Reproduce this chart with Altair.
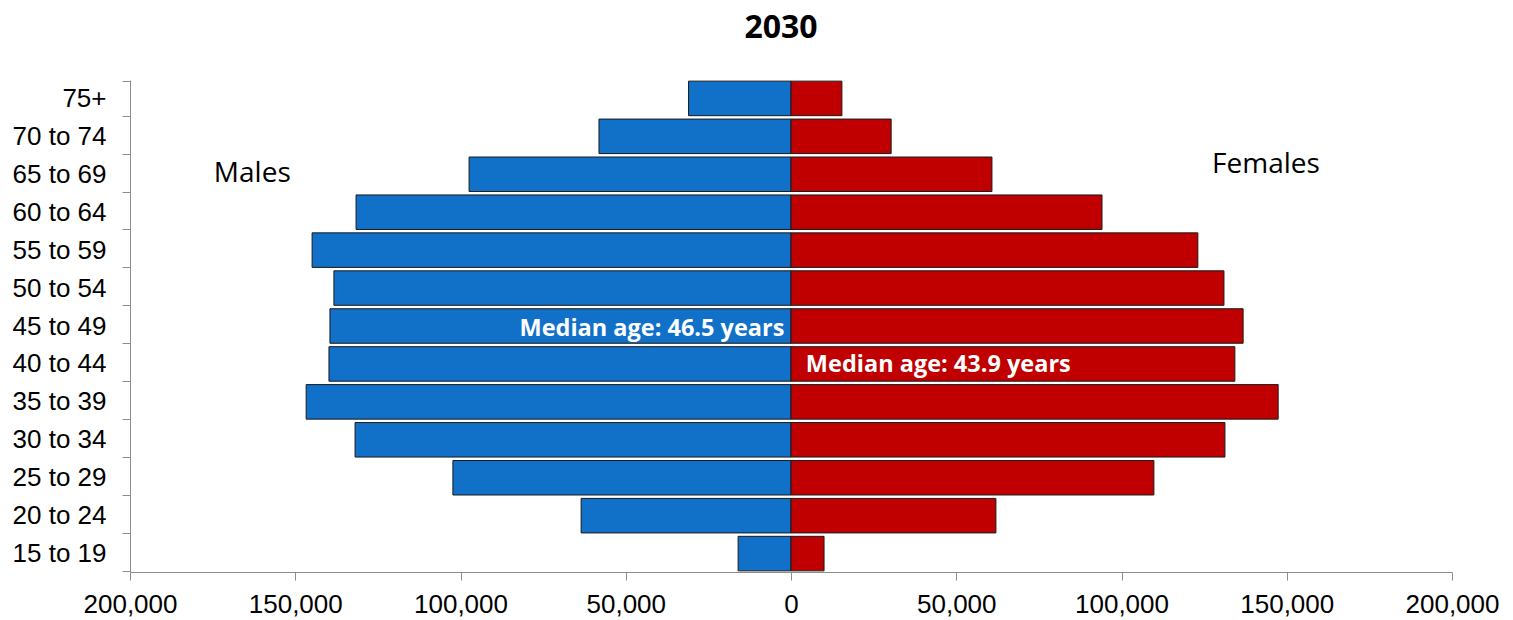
import altair as alt
import pandas as pd

# Population by five-year age group, 2030 projection
age_groups = ["15 to 19", "20 to 24", "25 to 29", "30 to 34", "35 to 39", "40 to 44",
              "45 to 49", "50 to 54", "55 to 59", "60 to 64", "65 to 69", "70 to 74", "75+"]
males = [16000, 63500, 102300, 131900, 146700, 139800, 139500, 138300, 144900,
         131600, 97400, 58100, 31000]
females = [10000, 62000, 109800, 131300, 147400, 134300, 136800, 131000, 123100,
           94100, 60800, 30300, 15400]

sexes = ["Males", "Females"]
sex_colors = ["#1170C8", "#C00000"]
x_ticks = [-200000, -150000, -100000, -50000, 0, 50000, 100000, 150000, 200000]

# Text annotations: sex labels and median ages
side_labels = ["Males", "Females"]
side_x = [-163000, 143700]
side_y = ["65 to 69", "65 to 69"]
median_text = ["Median age: 46.5 years", "Median age: 43.9 years"]
median_x = [-2000, 4500]
median_y = ["45 to 49", "40 to 44"]

rows = []
for age, m, f in zip(age_groups, males, females):
    rows.append({"age": age, "sex": "Males", "value": -m})
    rows.append({"age": age, "sex": "Females", "value": f})
df = pd.DataFrame(rows)

y_order = list(reversed(age_groups))

y_enc = alt.Y(
    "age:N",
    sort=y_order,
    scale=alt.Scale(domain=y_order, paddingInner=0.09, paddingOuter=0.03),
    axis=alt.Axis(
        title=None,
        tickBand="extent",
        tickSize=8,
        tickColor="#8c8c8c",
        domainColor="#8c8c8c",
        labelFont="Liberation Sans",
        labelFontSize=26,
        labelColor="#000000",
        labelPadding=16,
    ),
)

x_enc = alt.X(
    "value:Q",
    scale=alt.Scale(domain=[-200000, 200000], nice=False),
    axis=alt.Axis(
        title=None,
        values=x_ticks,
        labelExpr="format(abs(datum.value), ',')",
        labelFlush=False,
        labelOverlap=False,
        grid=False,
        tickSize=8,
        tickColor="#8c8c8c",
        domainColor="#8c8c8c",
        labelFont="Liberation Sans",
        labelFontSize=26,
        labelColor="#000000",
        labelPadding=11,
    ),
)

bars = alt.Chart(df).mark_bar(stroke="#1a1a1a", strokeWidth=1).encode(
    x=x_enc,
    y=y_enc,
    color=alt.Color("sex:N", scale=alt.Scale(domain=sexes, range=sex_colors), legend=None),
)

side_df = pd.DataFrame({"label": side_labels, "x": side_x, "age": side_y})
males_text = alt.Chart(side_df.iloc[[0]]).mark_text(
    font="Open Sans", fontSize=28, color="#000000", align="center", baseline="middle"
).encode(x="x:Q", y=alt.Y("age:N", sort=y_order), text="label:N")
females_text = alt.Chart(side_df.iloc[[1]]).mark_text(
    font="Open Sans", fontSize=28, color="#000000", align="center", baseline="middle", dy=-9
).encode(x="x:Q", y=alt.Y("age:N", sort=y_order), text="label:N")

med_df = pd.DataFrame({"label": median_text, "x": median_x, "age": median_y})
med_male = alt.Chart(med_df.iloc[[0]]).mark_text(
    font="Open Sans", fontSize=23.5, fontWeight="bold", color="#ffffff",
    align="right", baseline="middle", dy=3
).encode(x="x:Q", y=alt.Y("age:N", sort=y_order), text="label:N")
med_female = alt.Chart(med_df.iloc[[1]]).mark_text(
    font="Open Sans", fontSize=23.5, fontWeight="bold", color="#ffffff",
    align="left", baseline="middle", dy=1
).encode(x="x:Q", y=alt.Y("age:N", sort=y_order), text="label:N")

chart = alt.layer(bars, males_text, females_text, med_male, med_female).properties(
    width=1322,
    height=492,
    title=alt.TitleParams(
        "2030", font="Open Sans", fontSize=32, fontWeight="bold", color="#000000",
        anchor="middle", frame="group", dx=-10, offset=22,
    ),
    padding={"left": 12, "top": 12, "right": 5, "bottom": 5},
).configure_view(stroke=None)

chart.save("out.html", embed_options={"renderer": "svg", "actions": False})
